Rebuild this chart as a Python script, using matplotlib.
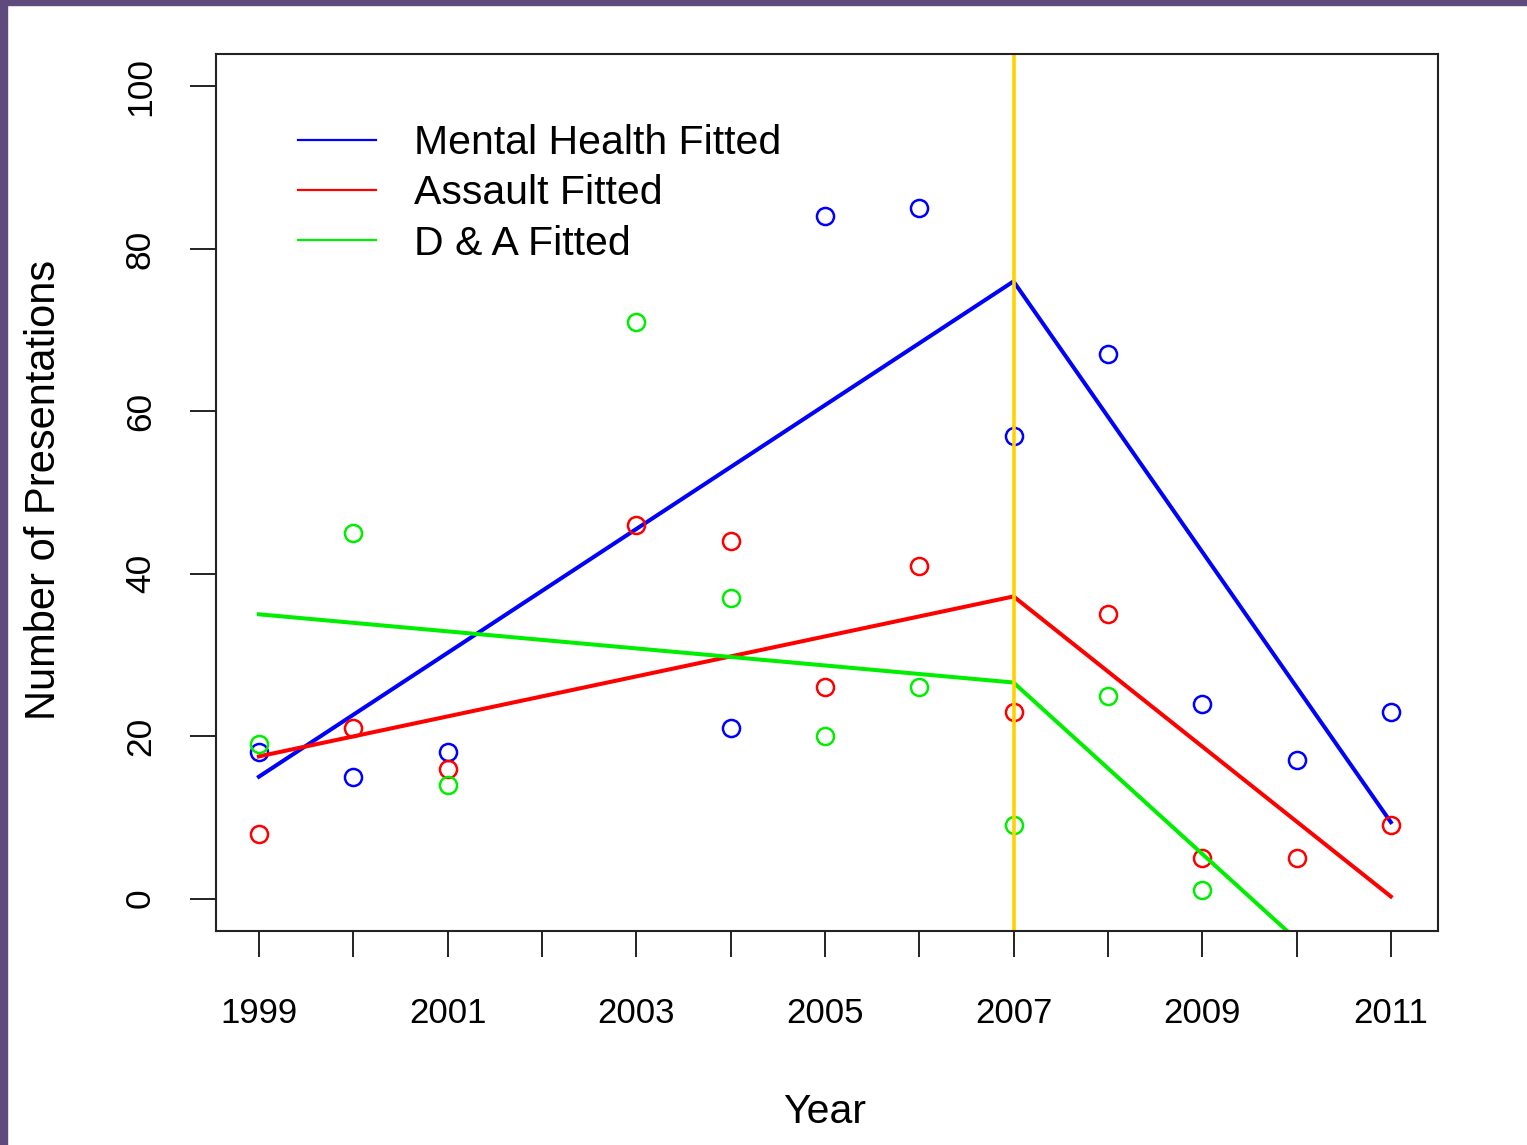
import matplotlib
matplotlib.use("Agg")
import matplotlib.pyplot as plt
from matplotlib.patches import Rectangle
import numpy as np

plt.rcParams['font.family'] = ['Liberation Sans', 'DejaVu Sans']

years = [1999, 2000, 2001, 2002, 2003, 2004, 2005, 2006, 2007, 2008, 2009, 2010, 2011]
nan = np.nan
mental_health = [18, 15, 18, nan, nan, 21, 84, 85, 57, 67, 24, 17, 23]
assault = [8, 21, 16, nan, 46, 44, 26, 41, 23, 35, 5, 5, 9]
drug_alcohol = [19, 45, 14, nan, 71, 37, 20, 26, 9, 25, 1, nan, nan]

fit_years = [1999, 2007, 2011]
mh_fit = [15.0, 76.0, 9.4]
as_fit = [17.5, 37.2, 0.25]
da_fit = [35.0, 26.6, -15.6]

break_year = 2007
xtick_labels = ['1999', '', '2001', '', '2003', '', '2005', '', '2007', '', '2009', '', '2011']
yticks = [0, 20, 40, 60, 80, 100]

W, H = 1527, 1145
fig = plt.figure(figsize=(W / 100, H / 100), dpi=100)
ax = fig.add_axes([216 / W, 1 - 931 / H, (1438 - 216) / W, (931 - 54) / H])

mk = dict(marker='o', linestyle='none', markersize=12.3, markerfacecolor='none', markeredgewidth=1.8)
lw = 2.9
ax.plot(years, mental_health, color='#0000FF', **mk)
ax.plot(fit_years, mh_fit, color='#0000FF', lw=lw, label='Mental Health Fitted')
ax.plot(years, assault, color='#FF0000', **mk)
ax.plot(fit_years, as_fit, color='#FF0000', lw=lw, label='Assault Fitted')
ax.plot(years, drug_alcohol, color='#00EE00', **mk)
ax.plot(fit_years, da_fit, color='#00EE00', lw=lw, label='D & A Fitted')
ax.axvline(break_year, color='#FFD200', lw=2.6)

ax.set_xlim(1998.545, 2011.5)
ax.set_ylim(-4, 104)
ax.set_xticks(years)
ax.set_xticklabels(xtick_labels, fontsize=25)
ax.set_yticks(yticks)
ax.set_yticklabels([str(v) for v in yticks], fontsize=25.5, rotation=90, va='center')
ax.tick_params(axis='both', length=18.5, width=1.4, color='#222222')
ax.tick_params(axis='x', pad=29)
ax.tick_params(axis='y', pad=24)
for s in ax.spines.values():
    s.set_linewidth(1.5)
    s.set_color('#222222')

ax.set_xlabel('Year', fontsize=29.5)
ax.set_ylabel('Number of Presentations', fontsize=30)
ax.xaxis.label.set_va('center')
ax.yaxis.label.set_va('center')
ax.xaxis.set_label_coords(0.498, -0.206)
ax.yaxis.set_label_coords(-0.141, 0.503)

leg = ax.legend(loc='upper left', bbox_to_anchor=((298 - 216) / 1222, (931 - 124) / 877),
                frameon=False, fontsize=29.5, handlelength=1.9, handletextpad=0.92,
                labelspacing=0.3, borderpad=0, borderaxespad=0)
for l in leg.get_lines():
    l.set_linewidth(1.6)

purple = '#5F4A7E'
fig.patches.append(Rectangle((0, 1 - 5 / H), 1, 5 / H, transform=fig.transFigure, color=purple, zorder=10))
fig.patches.append(Rectangle((0, 0), 7 / W, 1, transform=fig.transFigure, color=purple, zorder=10))

fig.savefig('out.png', dpi=100)
